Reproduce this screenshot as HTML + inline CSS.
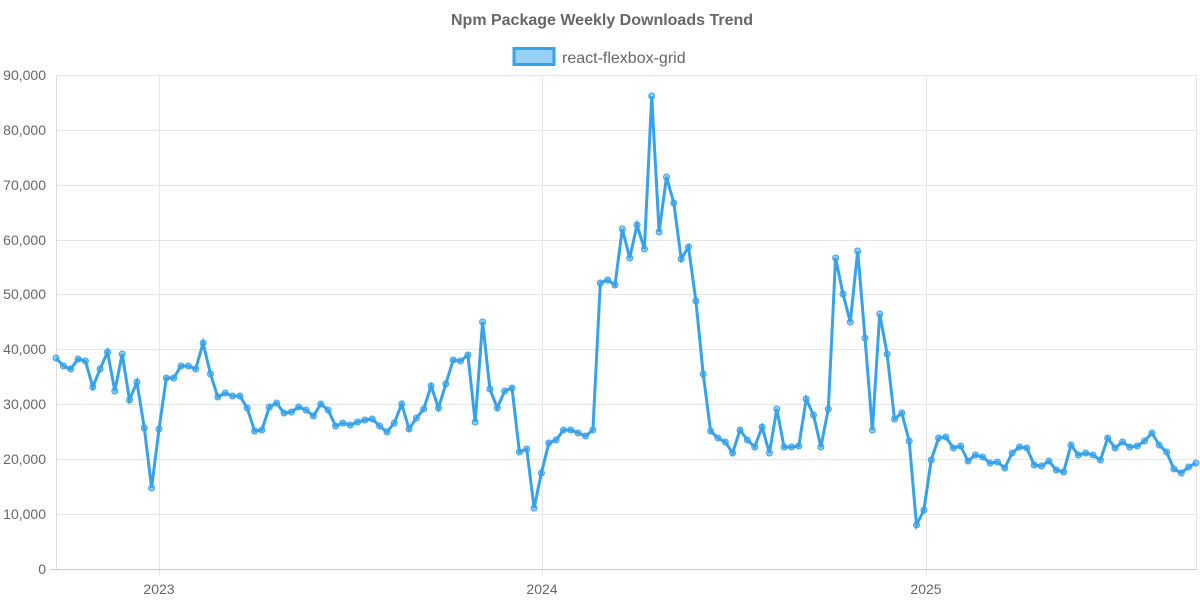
<!DOCTYPE html>
<html><head><meta charset="utf-8"><style>
html,body{margin:0;padding:0;background:#fff;}
svg{display:block;font-family:"Liberation Sans",Arial,sans-serif;}
</style></head><body>
<svg id="s" width="1200" height="600" viewBox="0 0 1200 600">
<text x="602" y="25" text-anchor="middle" font-size="16" font-weight="bold" fill="#666">Npm Package Weekly Downloads Trend</text>
<rect x="514" y="48.5" width="40" height="16" fill="rgba(54,162,235,0.5)" stroke="#36a2eb" stroke-width="3"/>
<text x="562" y="63" font-size="16" fill="#666">react-flexbox-grid</text>
<g stroke="#e5e5e5" stroke-width="1">
<line x1="56" y1="75.5" x2="1197" y2="75.5"/>
<line x1="56" y1="130.5" x2="1197" y2="130.5"/>
<line x1="56" y1="185.5" x2="1197" y2="185.5"/>
<line x1="56" y1="240.5" x2="1197" y2="240.5"/>
<line x1="56" y1="294.5" x2="1197" y2="294.5"/>
<line x1="56" y1="349.5" x2="1197" y2="349.5"/>
<line x1="56" y1="404.5" x2="1197" y2="404.5"/>
<line x1="56" y1="459.5" x2="1197" y2="459.5"/>
<line x1="56" y1="514.5" x2="1197" y2="514.5"/>
<line x1="159.5" y1="75" x2="159.5" y2="576"/>
<line x1="542.5" y1="75" x2="542.5" y2="576"/>
<line x1="926.5" y1="75" x2="926.5" y2="576"/>
<line x1="1196.5" y1="75" x2="1196.5" y2="569"/>
</g>
<line x1="56.5" y1="75" x2="56.5" y2="569" stroke="#ddd"/>
<line x1="50" y1="569.5" x2="1197" y2="569.5" stroke="#ccc"/>
<g font-size="14" fill="#666" text-anchor="end">
<text x="46" y="80">90,000</text>
<text x="46" y="135">80,000</text>
<text x="46" y="190">70,000</text>
<text x="46" y="245">60,000</text>
<text x="46" y="299">50,000</text>
<text x="46" y="354">40,000</text>
<text x="46" y="409">30,000</text>
<text x="46" y="464">20,000</text>
<text x="46" y="519">10,000</text>
<text x="46" y="574">0</text>
</g>
<g font-size="14" fill="#666" text-anchor="middle">
<text x="159" y="594">2023</text>
<text x="542" y="594">2024</text>
<text x="926" y="594">2025</text>
</g>
<g id="d"></g>
</svg>
<script>
var ys=[358,366,369,359,361,387,369,352,391,354,400,382,428,488,429,378,378,366,366,369,343,374,397,393,396,396,408,431,430,407,403,413,412,407,410,416,404,410,426,423,425,422,420,419,426,432,423,404,429,418,409,386,408,384,360,361,355,422,322,389,408,391,388,452,449,508,473,443,440,430,430,433,436,430,283,280,285,229,258,225,249,96,232,177,203,259,247,301,374,431,438,442,453,430,440,447,427,453,409,447,447,446,399,415,447,409,258,294,322,251,338,430,314,354,419,413,441,525,510,460,438,437,448,446,461,455,457,463,462,468,453,447,448,465,466,461,470,472,445,455,453,455,460,438,448,442,447,446,441,433,445,452,469,473,467,463];
var n=ys.length,step=(1196-56)/(n-1),pts=[],c='';
for(var i=0;i<n;i++){var x=56+i*step;pts.push(x.toFixed(1)+','+ys[i]);c+='<circle cx="'+x.toFixed(1)+'" cy="'+ys[i]+'" r="3" fill="rgba(54,162,235,0.5)" stroke="#36a2eb" stroke-width="1"/>';}
document.getElementById('d').innerHTML='<polyline points="'+pts.join(' ')+'" fill="none" stroke="#36a2eb" stroke-width="3" stroke-linejoin="miter"/>'+c;
</script>
</body></html>
